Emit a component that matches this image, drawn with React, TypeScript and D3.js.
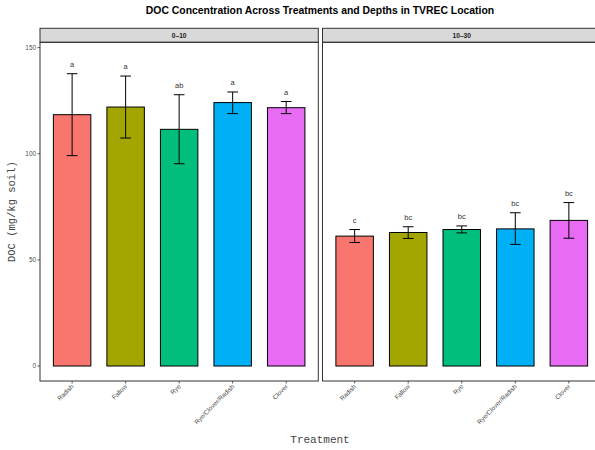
import React from "react";
import * as d3 from "d3";

const treatments = ["Radish", "Fallow", "Rye", "Rye/Clover/Radish", "Clover"];
const depths = ["0–10", "10–30"];
const colors = ["#F8766D", "#A3A500", "#00BF7D", "#00B0F6", "#E76BF3"];
const mean010 = [118.4, 122.0, 111.5, 124.1, 121.7];
const lo010 = [99.1, 107.4, 95.3, 118.9, 118.9];
const hi010 = [137.7, 136.6, 127.8, 129.1, 124.6];
const letters010 = ["a", "a", "ab", "a", "a"];
const mean1030 = [61.2, 62.9, 64.3, 64.6, 68.6];
const lo1030 = [58.2, 60.1, 62.7, 57.3, 60.2];
const hi1030 = [64.3, 65.6, 66.0, 72.2, 77.0];
const letters1030 = ["c", "bc", "bc", "bc", "bc"];
const yTicks = [0, 50, 100, 150];

const panelsData = [
  { depth: depths[0], mean: mean010, lo: lo010, hi: hi010, letters: letters010 },
  { depth: depths[1], mean: mean1030, lo: lo1030, hi: hi1030, letters: letters1030 },
];

export default function App() {
  const W = 595, H = 450;
  const top = 42.3, bottom = 381;
  const stripTop = 28.3;
  const panelX = [[40, 318.3], [322.5, 601]];
  const y = d3.scaleLinear().domain([-7.06, 152.5]).range([bottom, top]);
  const sans = "'Liberation Sans', Arial, sans-serif";
  const mono = "'Liberation Mono', 'Courier New', monospace";
  return (
    <svg width={W} height={H} style={{ position: "absolute", left: 0, top: 0 }}>
      <rect x={0} y={0} width={W} height={H} fill="#fff" />
      <text x={320} y={14} textAnchor="middle" fontFamily={sans} fontWeight="bold" fontSize={10.4} fill="#000">
        DOC Concentration Across Treatments and Depths in TVREC Location
      </text>
      {panelsData.map((p, pi) => {
        const [x0, x1] = panelX[pi];
        const x = d3.scaleBand<string>().domain(treatments).range([x0, x1]).paddingInner(0.3).paddingOuter(0.25);
        const bw = x.bandwidth();
        const step = x.step();
        return (
          <g key={pi}>
            <rect x={x0} y={stripTop} width={x1 - x0} height={top - stripTop} fill="#d9d9d9" stroke="#333" strokeWidth={1} />
            <text x={(x0 + x1) / 2} y={(stripTop + top) / 2 + 2.3} textAnchor="middle" fontFamily={sans} fontWeight="bold" fontSize={6.6} fill="#1a1a1a">
              {p.depth}
            </text>
            {treatments.map((t, i) => {
              const cx = (x(t) as number) + bw / 2;
              return (
                <g key={t}>
                  <rect x={x(t)} y={y(p.mean[i])} width={bw} height={y(0) - y(p.mean[i])} fill={colors[i]} stroke="#000" strokeWidth={1} />
                  <line x1={cx} x2={cx} y1={y(p.lo[i])} y2={y(p.hi[i])} stroke="#000" strokeWidth={1} />
                  <line x1={cx - step * 0.1} x2={cx + step * 0.1} y1={y(p.lo[i])} y2={y(p.lo[i])} stroke="#000" strokeWidth={1} />
                  <line x1={cx - step * 0.1} x2={cx + step * 0.1} y1={y(p.hi[i])} y2={y(p.hi[i])} stroke="#000" strokeWidth={1} />
                  <text x={cx} y={y(p.hi[i]) - 7} textAnchor="middle" fontFamily={sans} fontSize={7.5} fill="#333">
                    {p.letters[i]}
                  </text>
                  <line x1={cx} x2={cx} y1={bottom} y2={bottom + 2.5} stroke="#333" strokeWidth={0.8} />
                  <text transform={`translate(${cx + 2},${bottom + 6}) rotate(-45)`} textAnchor="end" fontFamily={sans} fontSize={6.4} fill="#4d4d4d">
                    {t}
                  </text>
                </g>
              );
            })}
            <rect x={x0} y={top} width={x1 - x0} height={bottom - top} fill="none" stroke="#333" strokeWidth={1} />
          </g>
        );
      })}
      {yTicks.map((v) => (
        <g key={v}>
          <line x1={37.5} x2={40} y1={y(v)} y2={y(v)} stroke="#333" strokeWidth={0.8} />
          <text x={36} y={y(v) + 2.2} textAnchor="end" fontFamily={sans} fontSize={6.4} fill="#4d4d4d">
            {v}
          </text>
        </g>
      ))}
      <text transform={`translate(15,${(top + bottom) / 2}) rotate(-90)`} textAnchor="middle" fontFamily={mono} fontSize={10.5} fill="#444">
        DOC (mg/kg soil)
      </text>
      <text x={320} y={443} textAnchor="middle" fontFamily={mono} fontSize={11} fill="#444">
        Treatment
      </text>
    </svg>
  );
}
